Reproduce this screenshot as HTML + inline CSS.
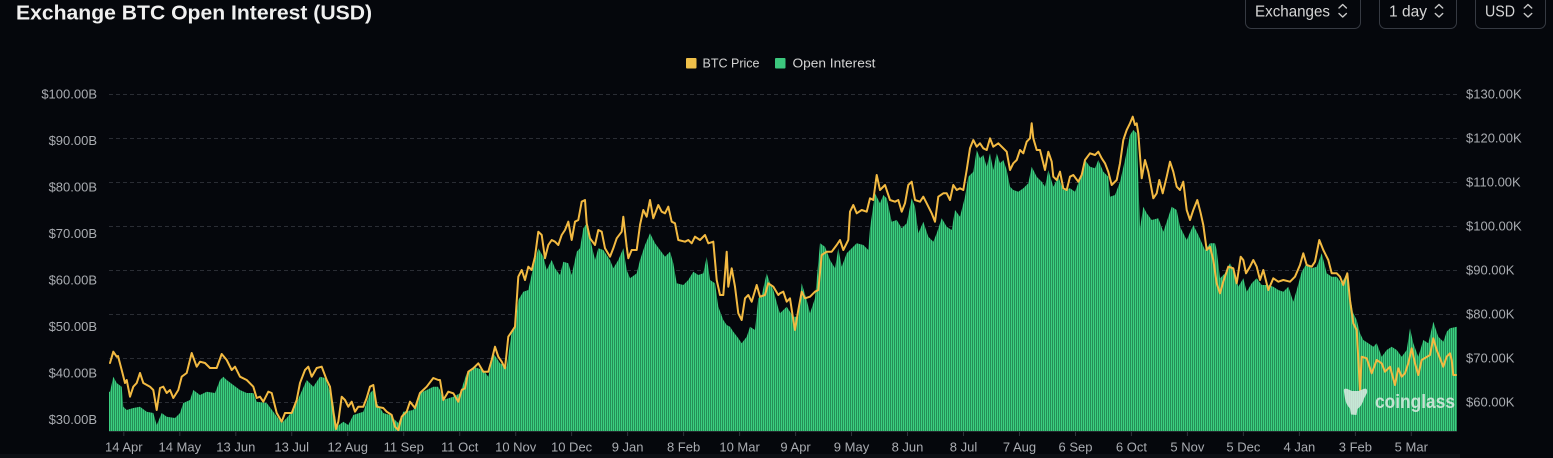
<!DOCTYPE html>
<html><head><meta charset="utf-8"><style>
html,body{margin:0;padding:0;background:#05070c;width:1553px;height:458px;overflow:hidden}
svg{display:block}
text{font-family:"Liberation Sans",Arial,sans-serif}
</style></head><body>
<svg width="1553" height="458" viewBox="0 0 1553 458" xmlns="http://www.w3.org/2000/svg">
<defs>
<pattern id="bars" width="2" height="10" patternUnits="userSpaceOnUse" x="109" y="0">
<rect width="2" height="10" fill="#1f7f4e"/><rect width="1.2" height="10" fill="#3bcf80"/>
</pattern>
</defs>
<rect width="1553" height="458" fill="#05070c"/>
<rect x="0" y="454" width="1460" height="4" fill="#0c0f14"/>

<!-- title -->
<text x="16" y="19.5" font-size="20" font-weight="bold" fill="#f0f0f0" textLength="356" lengthAdjust="spacingAndGlyphs">Exchange BTC Open Interest (USD)</text>

<!-- controls -->
<g fill="none" stroke="#363a42" stroke-width="1">
<rect x="1245.5" y="-10" width="115" height="38.5" rx="6"/>
<rect x="1379.5" y="-10" width="77" height="38.5" rx="6"/>
<rect x="1475.5" y="-10" width="70" height="38.5" rx="6"/>
</g>
<g font-size="16" fill="#d6d6d6">
<text x="1255" y="16.3" textLength="75" lengthAdjust="spacingAndGlyphs">Exchanges</text>
<text x="1389" y="16.3" textLength="38" lengthAdjust="spacingAndGlyphs">1 day</text>
<text x="1485" y="16.3" textLength="30" lengthAdjust="spacingAndGlyphs">USD</text>
</g>
<g fill="none" stroke="#c8c8c8" stroke-width="1.4" stroke-linecap="round" stroke-linejoin="round">
<path d="M1339,8 L1342.7,4.5 L1346.4,8 M1339,13.5 L1342.7,17 L1346.4,13.5"/>
<path d="M1435.3,8 L1439,4.5 L1442.7,8 M1435.3,13.5 L1439,17 L1442.7,13.5"/>
<path d="M1524.3,8 L1528,4.5 L1531.7,8 M1524.3,13.5 L1528,17 L1531.7,13.5"/>
</g>

<!-- legend -->
<rect x="686" y="58" width="10.5" height="10.5" rx="1" fill="#f0c04a"/>
<text x="702.5" y="67.5" font-size="13" fill="#d4d4d4" textLength="57" lengthAdjust="spacingAndGlyphs">BTC Price</text>
<rect x="775" y="58" width="10.5" height="10.5" rx="1" fill="#3cc77e"/>
<text x="792.5" y="67.5" font-size="13" fill="#d4d4d4" textLength="83" lengthAdjust="spacingAndGlyphs">Open Interest</text>

<!-- grid -->
<g stroke="#2a2d34" stroke-width="1" stroke-dasharray="4,3">
<line x1="109" x2="1457" y1="94.5" y2="94.5"/>
<line x1="109" x2="1457" y1="138.5" y2="138.5"/>
<line x1="109" x2="1457" y1="182.5" y2="182.5"/>
<line x1="109" x2="1457" y1="226.5" y2="226.5"/>
<line x1="109" x2="1457" y1="270.5" y2="270.5"/>
<line x1="109" x2="1457" y1="314.5" y2="314.5"/>
<line x1="109" x2="1457" y1="358.5" y2="358.5"/>
<line x1="109" x2="1457" y1="402.5" y2="402.5"/>
</g>

<!-- left axis -->
<g font-size="13" fill="#a9acb1" text-anchor="end">
<text x="97" y="98.3">$100.00B</text>
<text x="97" y="144.8">$90.00B</text>
<text x="97" y="191.3">$80.00B</text>
<text x="97" y="237.8">$70.00B</text>
<text x="97" y="284.3">$60.00B</text>
<text x="97" y="330.8">$50.00B</text>
<text x="97" y="377.3">$40.00B</text>
<text x="97" y="423.8">$30.00B</text>
</g>
<!-- right axis -->
<g font-size="13" fill="#a9acb1">
<text x="1466" y="98.5">$130.00K</text>
<text x="1466" y="142.5">$120.00K</text>
<text x="1466" y="186.5">$110.00K</text>
<text x="1466" y="230.5">$100.00K</text>
<text x="1466" y="274.5">$90.00K</text>
<text x="1466" y="318.5">$80.00K</text>
<text x="1466" y="362.5">$70.00K</text>
<text x="1466" y="406.5">$60.00K</text>
</g>

<!-- OI bars -->
<polygon fill="url(#bars)" points="109,431 109,391.7 110,391.7 113.3,376.7 116.7,383 121.7,386.7 123.3,406.7 126.7,410 133.3,408 140,406.7 146.7,411.7 153.3,413 156.7,425 161.7,413 166.7,416.7 175,418 180,413 183.3,403 190,400 193.3,390 200,395 206.7,391.7 215,393 220,380 223.3,376.7 226.7,380 233.3,385 240,390 246.7,393 253.3,393 256.7,401.7 266.7,403 273.3,411.7 281.7,423 286.7,418 293.3,410 300,395 306.7,380 313.3,386.7 320,376.7 325,378 328.3,386.7 333.3,403 336.7,426.7 343.3,421.7 348.3,425 353.3,415 363.3,411.7 370,393 373.3,390 376.7,403 383.3,413 390,415 395,420 398.3,423 403.3,411.7 413.3,410 420,393 426.7,390 433.3,386.7 438,386.7 440,390 443,400 453.3,396.7 460,393.3 466.7,373.3 473.3,366.7 483.3,370 488.3,376.7 493.3,353.3 500,363.3 506.7,366.7 511.7,331.7 515,328.3 518.3,300 523.3,291.7 528.3,290 533.3,266.7 538.3,248.3 543.3,256.7 546.7,270 551.7,260 555,268.3 560,275 563.3,261.7 568.3,263.3 571.7,275 576.7,251.7 580,248.3 583.3,228.3 586.7,223.3 590,238.3 595,260 598.3,248.3 603.3,250 610,260 613.3,268.3 618.3,260 623.3,248.3 626.7,270 630,278.3 636.7,273.3 640,260 645,245 650,233.3 655,243.3 660,250 665,256.7 670,251.7 673.3,263.3 676.7,283.3 683.3,285 688.3,280 693.3,271.7 698.3,275 703.3,273.3 706.7,256.7 710,280 715,283.3 718.3,306.7 723.3,320 726.7,325 730,326.7 733.3,331.7 738.3,338.3 741.7,343.3 746.7,336.7 750,326.7 755,330 758.3,298.3 761.7,295 766.7,273.3 770,283.3 773.3,290 778.3,308.3 780,313.3 786.7,306.7 793.3,316.7 798.3,316.7 801.7,283.3 806.7,300 810,313.3 815,298.3 820,243.3 825,246.7 830,260 835,268.3 838.3,248.3 841.7,266.7 846.7,253.3 851.7,248.3 856.7,243.3 863.3,245 868.3,250 870,228.3 875,193.3 880,203.3 883.3,195 886.7,198.3 891.7,221.7 896.7,220 901.7,228.3 906.7,223.3 911.7,198.3 915,206.7 918.3,233.3 923.3,221.7 928.3,236.7 933.3,241.7 936.7,233.3 941.7,218.3 946.7,226.7 951.7,230 955,210 960,216.7 965,196.7 968.3,176.7 973.3,171.7 976.7,150 980,158.3 983.3,155 986.7,166.7 990,153.3 993.3,170 996.7,153.3 1000,163.3 1003.3,160 1006.7,170 1010,186.7 1013.3,190 1018.3,191.7 1023.3,188.3 1028.3,183.3 1031.7,166.7 1036.7,176.7 1041.7,181.7 1045,186.7 1048.3,170 1053.3,186.7 1058.3,176.7 1063.3,190 1070,188.3 1075,191.7 1080,178.3 1085,160 1090,166.7 1095,168.3 1098.3,160 1103.3,171.7 1108.3,176.7 1110,196.7 1115,195 1120,181.7 1125,160 1130,135 1133.3,130 1136.7,133.3 1140,228.3 1143.3,206.7 1146.7,213.3 1151.7,220 1158.3,218.3 1163.3,231.7 1166.7,221.7 1171.7,206.7 1176.7,210 1180,226.7 1186.7,240 1193.3,225 1198.3,235 1205,250 1210,243.3 1215,243.3 1216.7,250 1220,278.3 1225,273.3 1230,263.3 1235,273.3 1238.3,286.7 1243.3,278.3 1246.7,291.7 1251.7,283.3 1256.7,278.3 1261.7,285 1268.3,285 1273.3,286.7 1278.3,290 1283.3,291.7 1288.3,286.7 1293.3,301.7 1296.7,290 1301.7,271.7 1306.7,263.3 1311.7,268.3 1316.7,266.7 1321.7,253.3 1326.7,273.3 1331.7,276.7 1336.7,276.7 1341.7,283.3 1346.7,273.3 1350,296.7 1353.3,313.3 1356.7,320 1360,333.3 1363.3,340 1368.3,343.3 1373.3,346.7 1376.7,343.3 1381.7,356.7 1386.7,350 1391.7,346.7 1396.7,350 1401.7,356.7 1406.7,350 1410,328.3 1413.3,343.3 1418.3,356.7 1423.3,340 1428.3,343.3 1433.3,321.7 1438.3,336.7 1443.3,341.7 1446.7,331.7 1450,328.3 1457,326.7 1457,431"/>

<!-- axis line & ticks -->
<line x1="109" x2="1457" y1="431.5" y2="431.5" stroke="#22262c" stroke-width="1"/>
<g stroke="#30343b" stroke-width="1">
<line x1="123.8" x2="123.8" y1="432" y2="436"/><line x1="179.8" x2="179.8" y1="432" y2="436"/><line x1="235.8" x2="235.8" y1="432" y2="436"/><line x1="291.7" x2="291.7" y1="432" y2="436"/><line x1="347.7" x2="347.7" y1="432" y2="436"/><line x1="403.7" x2="403.7" y1="432" y2="436"/><line x1="459.7" x2="459.7" y1="432" y2="436"/><line x1="515.7" x2="515.7" y1="432" y2="436"/><line x1="571.6" x2="571.6" y1="432" y2="436"/><line x1="627.6" x2="627.6" y1="432" y2="436"/><line x1="683.6" x2="683.6" y1="432" y2="436"/><line x1="739.6" x2="739.6" y1="432" y2="436"/><line x1="795.6" x2="795.6" y1="432" y2="436"/><line x1="851.5" x2="851.5" y1="432" y2="436"/><line x1="907.5" x2="907.5" y1="432" y2="436"/><line x1="963.5" x2="963.5" y1="432" y2="436"/><line x1="1019.5" x2="1019.5" y1="432" y2="436"/><line x1="1075.5" x2="1075.5" y1="432" y2="436"/><line x1="1131.4" x2="1131.4" y1="432" y2="436"/><line x1="1187.4" x2="1187.4" y1="432" y2="436"/><line x1="1243.4" x2="1243.4" y1="432" y2="436"/><line x1="1299.4" x2="1299.4" y1="432" y2="436"/><line x1="1355.4" x2="1355.4" y1="432" y2="436"/><line x1="1411.3" x2="1411.3" y1="432" y2="436"/>
</g>

<!-- x labels -->
<g font-size="13" fill="#a9acb1" text-anchor="middle">
<text x="123.8" y="451.5">14 Apr</text><text x="179.8" y="451.5">14 May</text><text x="235.8" y="451.5">13 Jun</text><text x="291.7" y="451.5">13 Jul</text><text x="347.7" y="451.5">12 Aug</text><text x="403.7" y="451.5">11 Sep</text><text x="459.7" y="451.5">11 Oct</text><text x="515.7" y="451.5">10 Nov</text><text x="571.6" y="451.5">10 Dec</text><text x="627.6" y="451.5">9 Jan</text><text x="683.6" y="451.5">8 Feb</text><text x="739.6" y="451.5">10 Mar</text><text x="795.6" y="451.5">9 Apr</text><text x="851.5" y="451.5">9 May</text><text x="907.5" y="451.5">8 Jun</text><text x="963.5" y="451.5">8 Jul</text><text x="1019.5" y="451.5">7 Aug</text><text x="1075.5" y="451.5">6 Sep</text><text x="1131.4" y="451.5">6 Oct</text><text x="1187.4" y="451.5">5 Nov</text><text x="1243.4" y="451.5">5 Dec</text><text x="1299.4" y="451.5">4 Jan</text><text x="1355.4" y="451.5">3 Feb</text><text x="1411.3" y="451.5">5 Mar</text>
</g>

<!-- price line -->
<polyline fill="none" stroke="#f3ba42" stroke-width="2" stroke-linejoin="round" stroke-linecap="round" points="110,363 113.3,351.7 116.7,356.7 118,356 121.7,370 125,383 126.7,380 130,396.7 133.3,386.7 136.7,383 140,373 143.3,383 150,386.7 153.3,390 156.7,410 160,388 163.3,386.7 166.7,393 170,390 173.3,398 178.3,390 181.7,376.7 186.7,373 191.7,353 196.7,366.7 200,361.7 205,363 210,368 216.7,368 221.7,354 226.7,360 231.7,370 235,366.7 240,376.7 246.7,380 253.3,386.7 256.7,398 260,396.7 263.3,401.7 268.3,391.7 271.7,393 276.7,413 281.7,421.7 285,413 291.7,413 296.7,400 300,383 305,370 308.3,366.7 311.7,376.7 316.7,368 321.7,366.7 326.7,380 330,386.7 333.3,411.7 336,429 338.3,421.7 341.7,396.7 345,400 348.3,406.7 351.7,401.7 355,411.7 358.3,406.7 363.3,406.7 366.7,398 370,386.7 373.3,385 376.7,406.7 383.3,408 386.7,411.7 391.7,415 395,426.7 398.3,430 401.7,416.7 406.7,411.7 410,401.7 415,408 420,393 426.7,386.7 433.3,378 438.3,380 440,380 443.3,400 448.3,391.7 453.3,393.3 458.3,401.7 461.7,390 465,388.3 468.3,371.7 473.3,368.3 478.3,363.3 483.3,371.7 488.3,371.7 491.7,360 495,346.7 498.3,356.7 501.7,361.7 505,368.3 508.3,336.7 511.7,331.7 515,326.7 518.3,276.7 521.7,270 525,280 528.3,266.7 531.7,270 535,256.7 538.3,231.7 541.7,235 545,258.3 548.3,245 551.7,240 555,241.7 558.3,245 561.7,235 565,230 568.3,221.7 571.7,240 575,221.7 578.3,220 581.7,201.7 585,200 586.7,223.3 590,238.3 595,245 598.3,230 601.7,231.7 605,248.3 610,256.7 613.3,248.3 616.7,238.3 621.7,231.7 623.3,216.7 626.7,246.7 628.3,258.3 631.7,250 636.7,250 640,225 643.3,210 646.7,216.7 650,200 653.3,218.3 658.3,205 661.7,211.7 665,213.3 668.3,206.7 671.7,221.7 675,223.3 678.3,240 685,241.7 688.3,240 691.7,243.3 695,236.7 700,240 705,235 708.3,243.3 713.3,241.7 716.7,280 720,295 723.3,295 726.7,251.7 728.3,286.7 731.7,268.3 735,286.7 738.3,313.3 741.7,320 745,298.3 748.3,295 751.7,301.7 756.7,285 760,296.7 765,295 768.3,283.3 773.3,286.7 778.3,295 780,293.3 783.3,291.7 786.7,301.7 790,298.3 793.3,320 795,330 798.3,310 801.7,291.7 805,298.3 810,296.7 815,291.7 818.3,290 821.7,255 826.7,251.7 831.7,251.7 836.7,245 840,240 843.3,250 848.3,240 850,211.7 853.3,205 856.7,213.3 861.7,210 866.7,211.7 870,198.3 873.3,200 876.7,175 880,190 885,185 890,200 895,201.7 898.3,200 901.7,211.7 905,203.3 908.3,185 911.7,181.7 915,200 920,201.7 923.3,196.7 926.7,203.3 931.7,213.3 935,221.7 938.3,196.7 943.3,193.3 946.7,193.3 950,200 953.3,185 956.7,190 960,188.3 963.3,190 966.7,170 970,148.3 973.3,140 976.7,146.7 980,143.3 983.3,148.3 986.7,150 990,138.3 993.3,146.7 998.3,143.3 1001.7,146.7 1006.7,151.7 1010,170 1013.3,163.3 1016.7,160 1020,150 1023.3,153.3 1026.7,141.7 1030,138.3 1031.7,123.3 1033.3,138.3 1036.7,150 1040,150 1043.3,163.3 1045,170 1048.3,151.7 1051.7,161.7 1053.3,176.7 1056.7,180 1060,171.7 1063.3,188.3 1066.7,190 1070,176.7 1073.3,175 1078.3,181.7 1081.7,175 1085,160 1090,153.3 1095,155 1098.3,151.7 1101.7,158.3 1105,163.3 1108.3,171.7 1111.7,185 1116.7,180 1120,163.3 1123.3,140 1126.7,130 1130,123.3 1132.7,116.7 1135,125 1136.7,123.3 1138.3,133.3 1141.7,178.3 1145,160 1148.3,171.7 1153.3,198.3 1156.7,193.3 1159.3,180 1162.7,193.3 1166.7,176.7 1170,161.7 1173.3,171.7 1176.7,186.7 1180,190 1183.3,181.7 1186.7,210 1190,220 1193.3,210 1197.3,200 1200.7,213.3 1203.3,225 1206.7,250 1210,246.7 1213.3,260 1216.7,283.3 1220,293.3 1223.3,281.7 1228.3,266.7 1233.3,268.3 1236.7,283.3 1240.7,256.7 1243.3,260 1246,273.3 1250,266.7 1253.3,260 1256.7,266.7 1260,280 1263.3,270 1268.3,290 1273.3,278.3 1278.3,281.7 1283.3,280 1290,281.7 1295,276.7 1300,265 1303.3,253.3 1306.7,265 1311.7,266.7 1315,261.7 1319.3,240 1323.3,250 1328.3,260 1331.7,273.3 1336.7,273.3 1340,276.7 1343.3,285 1347.3,273.3 1350,300 1353.3,323.3 1356.7,330 1360,390 1361.7,356.7 1366.7,358.3 1371.7,373.3 1376.7,360 1381.7,363.3 1385,371.7 1390,366.7 1395,385 1398.3,368.3 1401.7,376.7 1405,373.3 1408.3,363.3 1411.7,348.3 1415,363.3 1418.3,375 1421.7,360 1430,355 1433.3,338.3 1436.7,350 1440,358.3 1443.3,366.7 1446.7,356.7 1450,353.3 1451.7,360 1453.3,375 1456,375"/>

<!-- watermark -->
<g opacity="0.82" fill="#e4eee8">
<path d="M1344,392 Q1343,387.5 1347.5,389 L1352,391 L1358.5,391 L1363.5,389 Q1368,387.5 1367,393 L1364,398.5 Q1362,406 1357.5,409 L1356.5,415 L1351,414.5 L1350,408.5 Q1346,404.5 1345,398.5 Z"/>
<text x="1375" y="408" font-size="19" font-weight="bold" textLength="80" lengthAdjust="spacingAndGlyphs">coinglass</text>
</g>
</svg>
</body></html>
